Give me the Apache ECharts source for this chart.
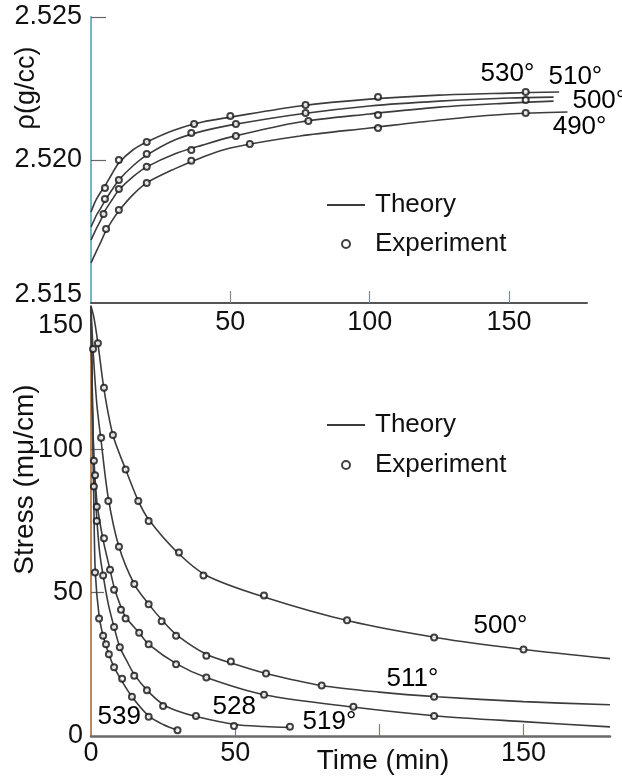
<!DOCTYPE html>
<html><head><meta charset="utf-8">
<script src="https://cdn.jsdelivr.net/npm/echarts@6/dist/echarts.min.js"></script>
<style>html,body{margin:0;padding:0;background:#fff}#c{width:622px;height:780px}</style>
</head><body><div id="c"></div>
<script>
// ---------- Top panel: density (g/cc) vs time (min) ----------
const rhoTheory530 = [[0,2.51818],[1,2.51843],[2,2.51864],[3.5,2.51888],[5,2.51909],[7.5,2.51951],[10,2.51990],[15,2.52035],[20,2.52063],[30,2.52105],[40,2.52133],[50,2.52150],[75,2.52189],[100,2.52213],[125,2.52227],[150,2.52234],[168,2.52238]];
const rhoTheory510 = [[0,2.51766],[1,2.51787],[2,2.51808],[3.5,2.51832],[5,2.51857],[7.5,2.51895],[10,2.51930],[15,2.51979],[20,2.52017],[30,2.52070],[40,2.52101],[50,2.52122],[75,2.52161],[100,2.52189],[125,2.52206],[150,2.52217],[166,2.52220]];
const rhoTheory500 = [[0,2.51720],[1,2.51741],[2,2.51762],[3.5,2.51790],[5,2.51822],[7.5,2.51860],[10,2.51895],[15,2.51941],[20,2.51976],[30,2.52021],[40,2.52052],[50,2.52080],[75,2.52133],[100,2.52161],[125,2.52185],[150,2.52199],[166,2.52206]];
const rhoTheory490 = [[0,2.51640],[1,2.51661],[2,2.51682],[3.5,2.51713],[5,2.51745],[7.5,2.51787],[10,2.51822],[15,2.51878],[20,2.51920],[30,2.51969],[40,2.52010],[50,2.52042],[75,2.52084],[100,2.52112],[125,2.52140],[150,2.52161],[171,2.52168]];

const rhoExp530 = [[5,2.51902],[10,2.52000],[20,2.52063],[37,2.52126],[50,2.52154],[77,2.52192],[103,2.52220],[156,2.52238]];
const rhoExp510 = [[5,2.51864],[10,2.51930],[20,2.52021],[36,2.52094],[52,2.52126],[77,2.52164],[156,2.52210]];
const rhoExp500 = [[4.5,2.51811],[10,2.51899],[20,2.51976],[36,2.52035],[52,2.52084],[78,2.52136],[103,2.52157]];
const rhoExp490 = [[5.4,2.51759],[10,2.51825],[20,2.51920],[36,2.51997],[57,2.52056],[103,2.52112],[156,2.52164]];

const topCurveLabels = ['530°','510°','500°','490°'];
const topCurveLabelAt = [[139.6,2.52301],[164,2.52290],[172.6,2.52206],[165.5,2.52115]];

const topXTicks = [50,100,150];
const topXLabels = [50,100,150];
const topYTicks = [2.520,2.525];
const topYLabels = [2.515,2.520,2.525];

// ---------- Bottom panel: stress (mμ/cm) vs time (min) ----------
const stressTheory500 = [[0,150],[1,146],[2.4,137],[4.5,121],[7.6,105],[12,93],[16.4,82],[20,75.5],[30,64],[40,56],[60,48.5],[90,40],[120,34.3],[150,30.2],[180,27]];
const stressTheory511 = [[0,150],[0.7,135],[2,116],[3.5,103],[6,83],[9.7,66],[15,53],[20,46],[25,40],[30,35],[40,28.5],[50,25],[60,22],[80,17.6],[100,15.3],[120,13.7],[150,12],[180,10.9]];
const stressTheory519 = [[0,150],[0.5,118],[1,97],[2,82],[3,75],[4.5,67],[6.6,58],[8,52],[10.4,45],[12,41.5],[16.7,36],[20,32],[30,25],[40,20.4],[60,14.4],[90,10.2],[120,7],[150,5],[180,3.2]];
const stressTheory528 = [[0,150],[0.5,115],[1,95],[1.5,85],[2,76],[3,64],[4.2,56],[6,46],[8,38],[10,31],[12.5,26],[15,21.5],[19.4,16],[25,11],[30,8.7],[36.4,6.8],[50,4],[60,3.3],[69,3]];
const stressTheory539 = [[0,150],[0.5,110],[1,80],[1.5,57],[2.8,42],[4.2,35],[6.2,28.5],[8,24],[10.8,19],[14.2,13.7],[20,7],[25,4],[30,2]];

const stressExp500 = [[2.4,137],[4.5,121.5],[7.6,105],[12,93],[16.4,82],[20,75],[30.5,64],[39,56],[60,49],[88.8,40.4],[119,34.4],[150,30.2],[180.7,27]];
const stressExp511 = [[0.7,135],[3.5,104],[6,82],[9.7,66],[15,53],[20,46],[24.5,40],[29.5,35],[40,28],[48.5,26],[60.7,21.8],[80,17.6],[119,13.7],[180.7,10.9]];
const stressExp519 = [[1.0,96],[2,80],[4.5,69],[6.6,58],[8,51],[10.4,44],[12,41],[16.7,36],[20,32],[29.5,25],[40,20.4],[60,14.4],[91,10.2],[119,7],[180.5,3.2]];
const stressExp528 = [[1.4,91],[2,75],[4.2,56],[8,38],[10,31],[15,21],[19.4,16],[25,10.5],[36.4,7],[49.6,3.5],[69,3.2]];
const stressExp539 = [[1.0,87],[1.4,57],[2.8,41],[4.2,35],[5.2,32],[6.2,28.5],[8,24],[10.8,20],[14.2,13.7],[20,6.7],[30,2]];

const bottomCurveLabels = ['500°','511°','519°','528','539'];
const bottomCurveLabelAt = [[132.5,38.3],[102.3,19.8],[73.2,4.9],[42,10.1],[2.1,6.6]];

const bottomXTicks = [50,100,150];
const bottomXLabels = [0,50,150];
const bottomYTicks = [50,100];
const bottomYLabels = [0,50,100,150];

// ---------- build ----------
const FONT = "'Liberation Sans', Arial, sans-serif";
const INK = '#111';
const LINE = '#3c3c3c';

function theory(data, i) {
  return { type: 'line', name: 'Theory', xAxisIndex: i, yAxisIndex: i, data: data,
    smooth: 0.3, symbol: 'none', silent: true,
    itemStyle: { color: LINE },
    lineStyle: { color: LINE, width: 1.6 }, z: 2 };
}
function experiment(data, i) {
  return { type: 'scatter', name: 'Experiment', xAxisIndex: i, yAxisIndex: i, data: data,
    symbol: 'emptyCircle', symbolSize: 6, silent: true,
    itemStyle: { color: '#111', borderColor: '#111', borderWidth: 1.3 }, z: 3 };
}
function labels(texts, at, i) {
  return { type: 'scatter', xAxisIndex: i, yAxisIndex: i, symbol: 'circle', symbolSize: 1, silent: true,
    itemStyle: { color: 'rgba(0,0,0,0)', opacity: 1 },
    data: at.map((p, k) => ({ value: p, name: texts[k] })),
    label: { show: true, position: 'right', distance: 0, formatter: '{b}', opacity: 1,
      textBorderWidth: 0, fontFamily: FONT, fontSize: 26, color: '#000' }, z: 4 };
}
function legendFor(top, gap) {
  return { orient: 'vertical', left: 327, top: top, padding: 0,
    itemWidth: 38, itemHeight: 8, itemGap: gap, selectedMode: false,
    data: [
      { name: 'Theory', icon: 'path://M0 0H38V2H0Z', itemStyle: { color: LINE, borderWidth: 0 } },
      { name: 'Experiment', icon: 'emptyCircle' }
    ],
    textStyle: { fontFamily: FONT, fontSize: 26, color: INK, lineHeight: 30, padding: [0, 0, 0, 5] } };
}

const chart = echarts.init(document.getElementById('c'), null, { renderer: 'canvas' });
chart.setOption({
  animation: false,
  backgroundColor: '#fff',
  grid: [
    { left: 91, top: 17, width: 496, height: 286 },
    { left: 91, top: 306, width: 519, height: 431 }
  ],
  xAxis: [
    { gridIndex: 0, type: 'value', min: 0, max: 178,
      axisLine: { show: true, lineStyle: { color: '#555', width: 2 } },
      axisTick: { show: true, inside: true, length: 12, customValues: topXTicks, lineStyle: { color: '#7a8a96', width: 1.2 } },
      axisLabel: { customValues: topXLabels, margin: 6, fontFamily: FONT, fontSize: 27, color: INK },
      splitLine: { show: false } },
    { gridIndex: 1, type: 'value', min: 0, max: 180,
      name: 'Time (min)', nameLocation: 'middle', nameGap: 11, nameMoveOverlap: false,
      nameTextStyle: { fontFamily: FONT, fontSize: 28, color: INK, padding: [0, 0, 0, 65], verticalAlign: 'top' },
      axisLine: { show: true, lineStyle: { color: '#6a6a6a', width: 2.5 } },
      axisTick: { show: true, inside: true, length: 12, customValues: bottomXTicks, lineStyle: { color: '#7a7a96', width: 1.2 } },
      axisLabel: { customValues: bottomXLabels, margin: 4, fontFamily: FONT, fontSize: 27, color: INK },
      splitLine: { show: false } }
  ],
  yAxis: [
    { gridIndex: 0, type: 'value', min: 2.515, max: 2.525,
      name: 'ρ(g/cc)', nameLocation: 'middle', nameGap: 51, nameMoveOverlap: false,
      nameTextStyle: { fontFamily: FONT, fontSize: 27, color: INK, padding: [0, 0, 0, 144] },
      axisLine: { show: true, lineStyle: { color: '#78b4c4', width: 2 } },
      axisTick: { show: true, inside: true, length: 15, customValues: topYTicks, lineStyle: { color: '#666', width: 1.2 } },
      axisLabel: { customValues: topYLabels, margin: 9, fontFamily: FONT, fontSize: 27, color: INK,
        formatter: v => v === 2.515 ? '{s|2.515}' : v.toFixed(3),
        rich: { s: { fontFamily: FONT, fontSize: 27, color: INK, padding: [0, 0, 16, 0] } } },
      splitLine: { show: false } },
    { gridIndex: 1, type: 'value', min: 0, max: 150,
      name: 'Stress (mμ/cm)', nameLocation: 'middle', nameGap: 52, nameMoveOverlap: false,
      nameTextStyle: { fontFamily: FONT, fontSize: 28, color: INK, padding: [0, 0, 0, 83] },
      axisLine: { show: true, lineStyle: { color: '#b48a64', width: 2 } },
      axisTick: { show: true, inside: true, length: 13, customValues: bottomYTicks, lineStyle: { color: '#666', width: 1.2 } },
      axisLabel: { customValues: bottomYLabels, margin: 8, fontFamily: FONT, fontSize: 27, color: INK,
        formatter: v => v === 150 ? '{s|150}' : String(v),
        rich: { s: { fontFamily: FONT, fontSize: 27, color: INK, padding: [40, 0, 0, 0] } } },
      splitLine: { show: false } }
  ],
  legend: [ legendFor(190, 9), legendFor(410, 10) ],
  series: [
    theory(rhoTheory530, 0), theory(rhoTheory510, 0), theory(rhoTheory500, 0), theory(rhoTheory490, 0),
    experiment(rhoExp530, 0), experiment(rhoExp510, 0), experiment(rhoExp500, 0), experiment(rhoExp490, 0),
    labels(topCurveLabels, topCurveLabelAt, 0),
    theory(stressTheory500, 1), theory(stressTheory511, 1), theory(stressTheory519, 1), theory(stressTheory528, 1), theory(stressTheory539, 1),
    experiment(stressExp500, 1), experiment(stressExp511, 1), experiment(stressExp519, 1), experiment(stressExp528, 1), experiment(stressExp539, 1),
    labels(bottomCurveLabels, bottomCurveLabelAt, 1)
  ]
});
</script></body></html>
